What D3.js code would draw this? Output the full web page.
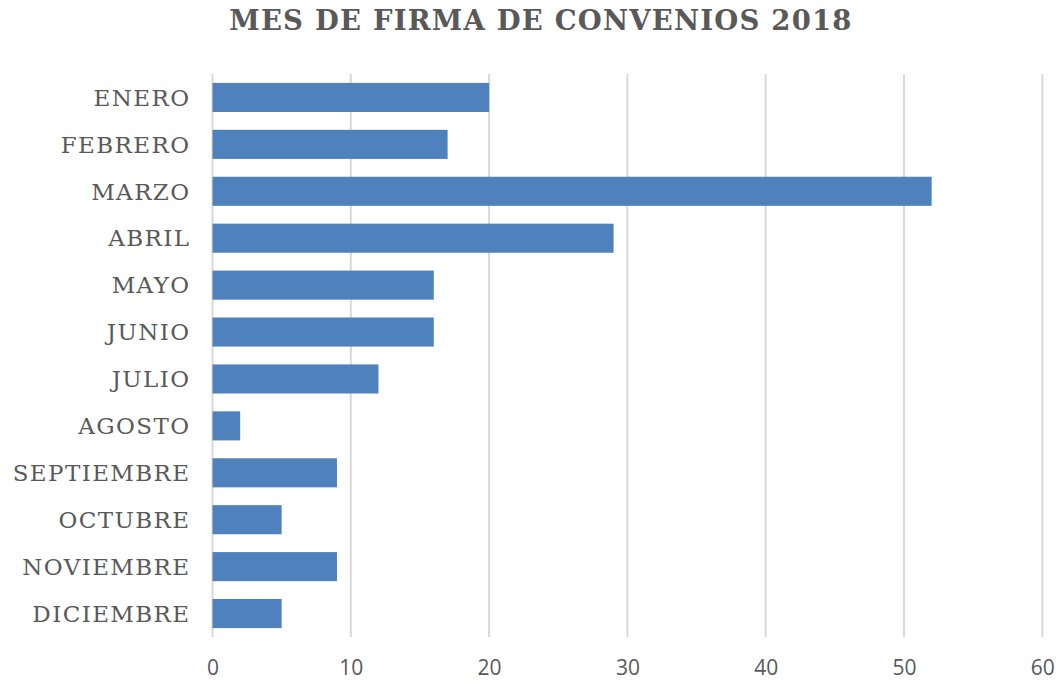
<!DOCTYPE html>
<html>
<head>
<meta charset="utf-8">
<script src="https://cdn.jsdelivr.net/npm/d3@7"></script>
<style>
  body { margin: 0; background: #fff; }
  svg { display: block; }
</style>
</head>
<body>
<svg id="chart" width="1062" height="683"></svg>
<script>
// Monthly count of signed agreements, 2018
const months = ["ENERO", "FEBRERO", "MARZO", "ABRIL", "MAYO", "JUNIO", "JULIO",
                "AGOSTO", "SEPTIEMBRE", "OCTUBRE", "NOVIEMBRE", "DICIEMBRE"];
const counts = [20, 17, 52, 29, 16, 16, 12, 2, 9, 5, 9, 5];
const xTicks = [0, 10, 20, 30, 40, 50, 60];
const title = "MES DE FIRMA DE CONVENIOS 2018";

const svg = d3.select("#chart");
const margin = { top: 74, right: 20, bottom: 46, left: 212.5 };
const width = 1042.3 - margin.left;
const height = 637 - margin.top;

const x = d3.scaleLinear().domain([0, 60]).range([0, width]);
const y = d3.scaleBand().domain(months).range([0, height]).paddingInner(0.38).paddingOuter(0.19);

const g = svg.append("g").attr("transform", `translate(${margin.left},${margin.top})`);

// vertical gridlines
g.append("g")
  .selectAll("line")
  .data(xTicks)
  .join("line")
  .attr("x1", d => x(d)).attr("x2", d => x(d))
  .attr("y1", 0).attr("y2", height)
  .attr("stroke", "#d9d9d9")
  .attr("stroke-width", 2);

// bars
g.append("g")
  .selectAll("rect")
  .data(months)
  .join("rect")
  .attr("x", x(0))
  .attr("y", d => y(d))
  .attr("width", (d, i) => x(counts[i]) - x(0))
  .attr("height", y.bandwidth())
  .attr("fill", "#4f81bd");

// category axis
const yAxis = g.append("g")
  .call(d3.axisLeft(y).tickSize(0).tickPadding(22));
yAxis.select(".domain").remove();
yAxis.selectAll("text")
  .attr("fill", "#595959")
  .attr("dy", "0.36em")
  .style("font-family", "'DejaVu Serif', serif")
  .style("font-size", "23px")
  .style("letter-spacing", "1.4px");

// value axis
const xAxis = g.append("g")
  .attr("transform", `translate(0,${height})`)
  .call(d3.axisBottom(x).tickValues(xTicks).tickSize(0).tickPadding(23));
xAxis.select(".domain").remove();
xAxis.selectAll("text")
  .attr("fill", "#595959")
  .style("font-family", "'Open Sans', sans-serif")
  .style("font-size", "21px");

// title
svg.append("text")
  .attr("x", 541)
  .attr("y", 29.5)
  .attr("text-anchor", "middle")
  .attr("fill", "#595959")
  .style("font-family", "'DejaVu Serif', serif")
  .style("font-weight", "bold")
  .style("font-size", "27.5px")
  .style("letter-spacing", "1.2px")
  .text(title);
</script>
</body>
</html>
